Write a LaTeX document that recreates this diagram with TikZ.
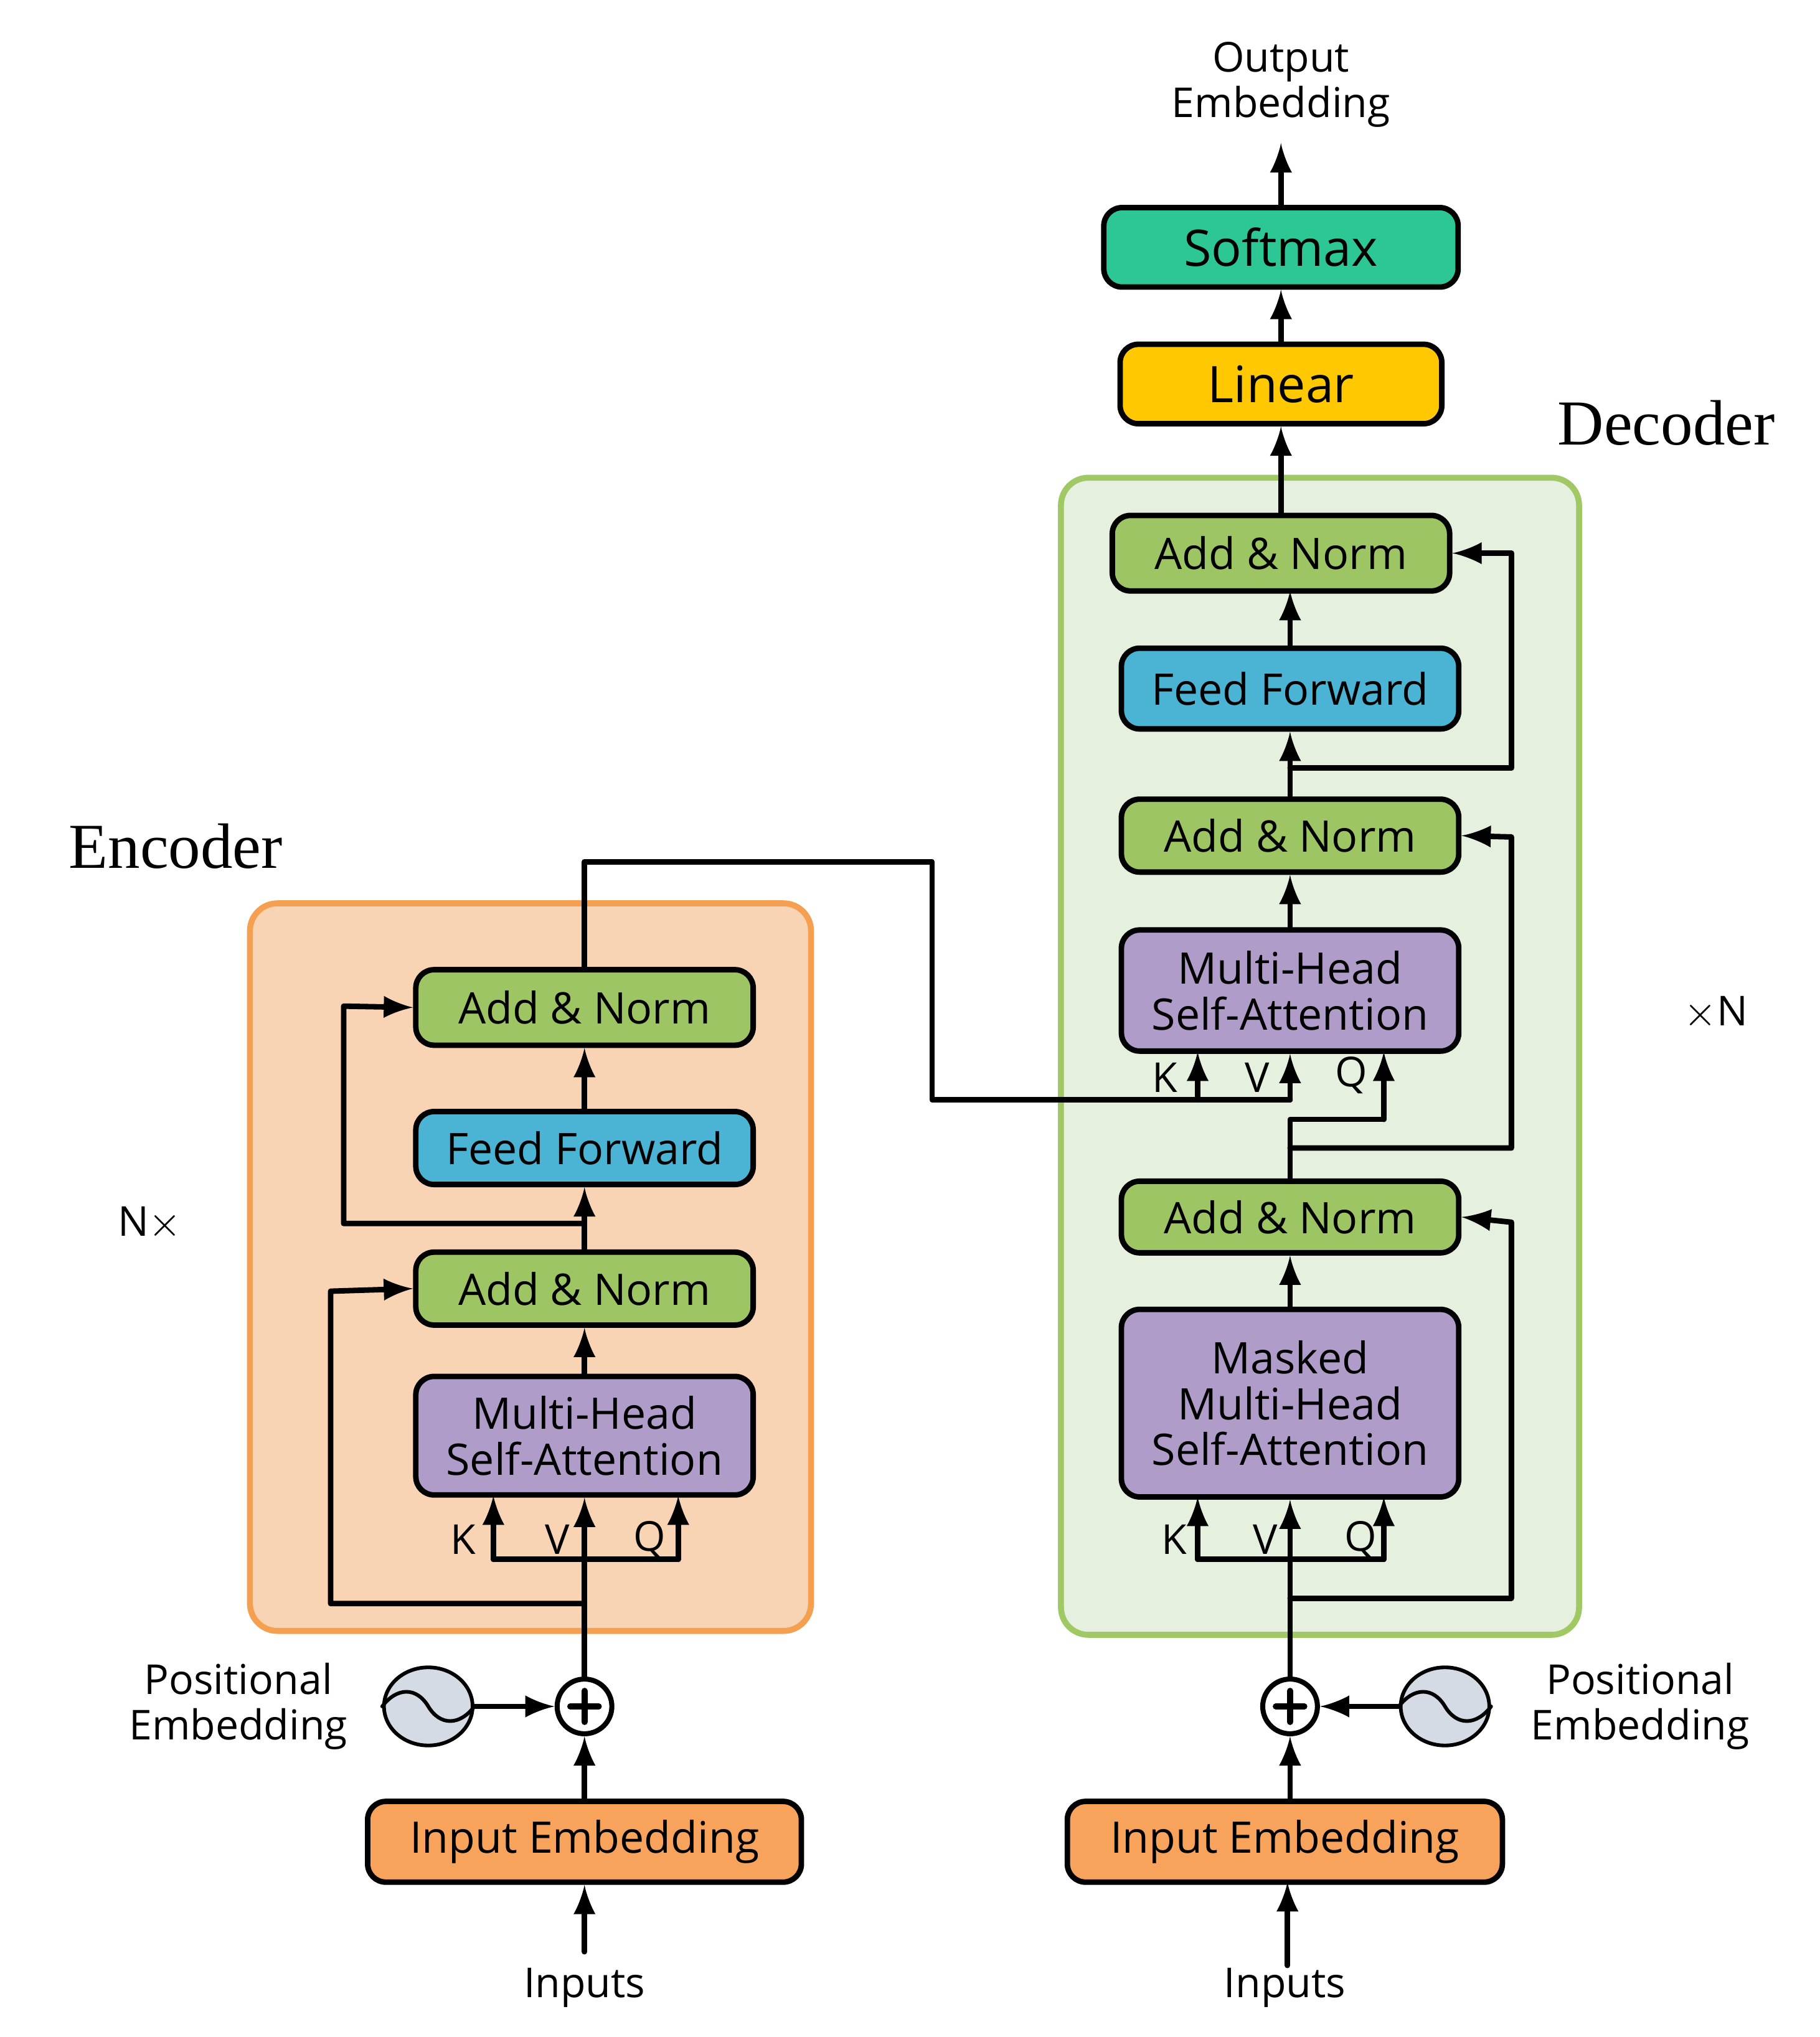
\documentclass[tikz,border=0pt]{standalone}
\usepackage{fontspec}
\setmainfont{Open Sans}
\newfontfamily\titlefont{Liberation Serif}
\usetikzlibrary{arrows,shapes.geometric}
\definecolor{encbg}{HTML}{F8D4B4}
\definecolor{encline}{HTML}{F4A050}
\definecolor{decbg}{HTML}{E6F0DE}
\definecolor{decline}{HTML}{A0C864}
\definecolor{normc}{HTML}{9EC563}
\definecolor{ffc}{HTML}{4BB3D3}
\definecolor{attc}{HTML}{AF9CC8}
\definecolor{embc}{HTML}{F7A35C}
\definecolor{smc}{HTML}{2DC795}
\definecolor{linc}{HTML}{FFC800}
\definecolor{posc}{HTML}{D5DBE5}
\tikzset{
  blk/.style={draw, line width=1.2pt, rounded corners=4pt, align=center,
    font=\fontsize{9.5}{10}\selectfont, inner sep=0pt, minimum width=2.59cm},
  arr/.style={line width=1.2pt, -latex},
  ln/.style={line width=1.2pt},
  lbl/.style={font=\fontsize{9}{10}\selectfont, align=center},
}
\begin{document}
\begin{tikzpicture}[x=0.01cm, y=-0.01cm, line cap=round, line join=round]
  \useasboundingbox (0,0) rectangle (1398,1565);

  % encoder
  \draw[encline, fill=encbg, line width=1.3pt, rounded corners=6pt] (192,694) rectangle (623,1253);
  \node[font=\fontsize{14}{16}\selectfont\titlefont] (enctitle) at (135,650) {Encoder};
  \node[lbl] (encn) at (115,940) {N$\times$};

  \node[blk, fill=embc, minimum width=3.33cm, minimum height=0.62cm] (ein) at (449,1415) {Input Embedding};
  \node[lbl] (einp) at (449,1527) {Inputs};
  \node[draw, line width=1.1pt, fill=white, circle, minimum width=0.42cm, inner sep=0pt] (eplus) at (449,1311) {};
  \draw[line width=1.3pt] (eplus.center) ++(-11,0) -- ++(22,0) (eplus.center) ++(0,-12) -- ++(0,24);
  \node[draw, line width=0.8pt, fill=posc, ellipse, minimum width=0.68cm, minimum height=0.6cm, inner sep=0pt] (epos) at (329,1311) {};
  \draw[line width=0.8pt] (epos.west) .. controls (305,1296) and (320,1296) .. (329,1311) .. controls (338,1326) and (353,1326) .. (epos.east);
  \node[lbl] (eposl) at (183,1311) {Positional\\Embedding};

  \node[blk, fill=attc, minimum height=0.91cm] (eatt) at (449,1103) {Multi-Head\\Self-Attention};
  \node[blk, fill=normc, minimum height=0.56cm] (enorm1) at (449,990) {Add \& Norm};
  \node[blk, fill=ffc, minimum height=0.56cm] (eff) at (449,882) {Feed Forward};
  \node[blk, fill=normc, minimum height=0.58cm] (enorm2) at (449,774) {Add \& Norm};

  \draw[arr] (einp.north) -- (ein.south);
  \draw[arr] (ein.north) -- (eplus.south);
  \draw[arr] (epos.east) -- (eplus.west);
  \draw[ln] (eplus.north) -- (449,1198);
  \draw[ln] (379,1198) -- (521,1198);
  \draw[arr] (379,1198) -- (379,1149);
  \draw[arr] (449,1198) -- (eatt.south);
  \draw[arr] (521,1198) -- (521,1149);
  \node[lbl] (ek) at (356,1183) {K};
  \node[lbl] (ev) at (428,1183) {V};
  \node[lbl] (eq) at (499,1183) {Q};
  \draw[arr] (449,1232) -- (254,1232) -- (254,992) -- (enorm1.west);
  \draw[arr] (eatt.north) -- (enorm1.south);
  \draw[arr] (enorm1.north) -- (eff.south);
  \draw[arr] (449,940) -- (264,940) -- (264,773) -- (enorm2.west);
  \draw[arr] (eff.north) -- (enorm2.south);

  % decoder
  \draw[decline, fill=decbg, line width=1.3pt, rounded corners=6pt] (815,367) rectangle (1213,1256);
  \node[font=\fontsize{14}{16}\selectfont\titlefont] (dectitle) at (1280,325) {Decoder};
  \node[lbl] (decn) at (1318,778) {$\times$N};

  \node[blk, fill=embc, minimum width=3.34cm, minimum height=0.62cm] (din) at (987,1415) {Input Embedding};
  \node[lbl] (dinp) at (987,1527) {Inputs};
  \node[draw, line width=1.1pt, fill=white, circle, minimum width=0.42cm, inner sep=0pt] (dplus) at (991,1311) {};
  \draw[line width=1.3pt] (dplus.center) ++(-11,0) -- ++(22,0) (dplus.center) ++(0,-12) -- ++(0,24);
  \node[draw, line width=0.8pt, fill=posc, ellipse, minimum width=0.68cm, minimum height=0.6cm, inner sep=0pt] (dpos) at (1110,1311) {};
  \draw[line width=0.8pt] (dpos.west) .. controls (1086,1296) and (1101,1296) .. (1110,1311) .. controls (1119,1326) and (1134,1326) .. (dpos.east);
  \node[lbl] (dposl) at (1260,1311) {Positional\\Embedding};

  \node[blk, fill=attc, minimum height=1.44cm] (datt1) at (991,1078) {Masked\\Multi-Head\\Self-Attention};
  \node[blk, fill=normc, minimum height=0.55cm] (dnorm1) at (991,935) {Add \& Norm};
  \node[blk, fill=attc, minimum height=0.93cm] (datt2) at (991,761) {Multi-Head\\Self-Attention};
  \node[blk, fill=normc, minimum height=0.56cm] (dnorm2) at (991,642) {Add \& Norm};
  \node[blk, fill=ffc, minimum height=0.62cm] (dff) at (991,529) {Feed Forward};
  \node[blk, fill=normc, minimum height=0.58cm] (dnorm3) at (984,425) {Add \& Norm};
  \node[blk, fill=linc, minimum width=2.47cm, minimum height=0.61cm, font=\fontsize{11}{12}\selectfont] (lin) at (984,295) {Linear};
  \node[blk, fill=smc, minimum width=2.72cm, minimum height=0.61cm, font=\fontsize{11}{12}\selectfont] (soft) at (984,190) {Softmax};
  \node[lbl] (outp) at (984,65) {Output\\Embedding};

  \draw[arr] (989,1510) -- (989,1446);
  \draw[arr] (991,1384) -- (dplus.south);
  \draw[arr] (dpos.west) -- (dplus.east);
  \draw[ln] (dplus.north) -- (991,1198);
  \draw[ln] (920,1198) -- (1063,1198);
  \draw[arr] (920,1198) -- (920,1150);
  \draw[arr] (991,1198) -- (datt1.south);
  \draw[arr] (1063,1198) -- (1063,1150);
  \node[lbl] (dk1) at (902,1183) {K};
  \node[lbl] (dv1) at (972,1183) {V};
  \node[lbl] (dq1) at (1045,1183) {Q};
  \draw[arr] (991,1228) -- (1161,1228) -- (1161,939) -- (dnorm1.east);
  \draw[arr] (datt1.north) -- (dnorm1.south);
  \draw[ln] (dnorm1.north) -- (991,860) -- (1063,860);
  \draw[arr] (1063,860) -- (1063,808);
  \draw[arr] (991,882) -- (1161,882) -- (1161,643) -- (dnorm2.east);
  \node[lbl] (dk2) at (895,828) {K};
  \node[lbl] (dv2) at (966,828) {V};
  \node[lbl] (dq2) at (1038,826) {Q};
  \draw[arr] (datt2.north) -- (dnorm2.south);
  \draw[arr] (dnorm2.north) -- (dff.south);
  \draw[arr] (991,590) -- (1161,590) -- (1161,425) -- (dnorm3.east);
  \draw[arr] (dff.north) -- (991,454);
  \draw[arr] (dnorm3.north) -- (lin.south);
  \draw[arr] (lin.north) -- (soft.south);
  \draw[arr] (soft.north) -- (984,110);

  % encoder to decoder
  \draw[ln] (enorm2.north) -- (449,662) -- (716,662) -- (716,845) -- (991,845);
  \draw[arr] (920,845) -- (920,808);
  \draw[arr] (991,845) -- (datt2.south);
\end{tikzpicture}
\end{document}
